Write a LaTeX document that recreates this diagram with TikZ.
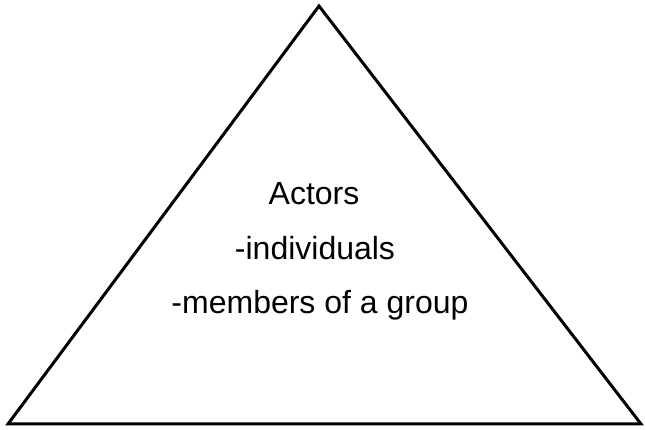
\documentclass[tikz,border=0pt]{standalone}
\usepackage{fontspec}
\setmainfont{Liberation Sans}
\begin{document}
\begin{tikzpicture}[x=1pt,y=1pt,
  edge/.style={line width=3pt, line join=miter},
  lbl/.style={anchor=base, inner sep=0pt, font=\fontsize{32}{38}\selectfont}]
\useasboundingbox (0,0) rectangle (646,430);
\coordinate (apex) at (319,424);
\coordinate (bl) at (8,6);
\coordinate (br) at (641,6);
\draw[edge] (apex) -- (br) -- (bl) -- cycle;
\node[lbl] (t1) at (314,225) {Actors};
\node[lbl] (t2) at (315,170) {-individuals};
\node[lbl] (t3) at (320,116) {-members of a group};
\end{tikzpicture}
\end{document}
